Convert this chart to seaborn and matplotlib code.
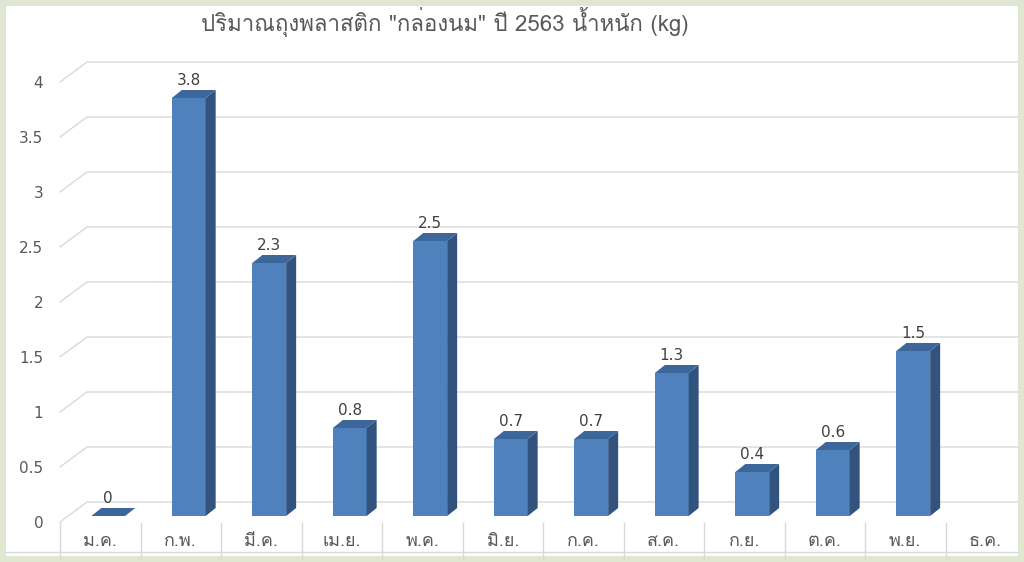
import numpy as np
import pandas as pd
import matplotlib
matplotlib.use('Agg')
import matplotlib.pyplot as plt
import seaborn as sns
from matplotlib import font_manager, ft2font
from matplotlib.patches import Polygon, Rectangle

# Data
months = ['ม.ค.', 'ก.พ.', 'มี.ค.', 'เม.ย.', 'พ.ค.', 'มิ.ย.',
          'ก.ค.', 'ส.ค.', 'ก.ย.', 'ต.ค.', 'พ.ย.', 'ธ.ค.']
weights = [0, 3.8, 2.3, 0.8, 2.5, 0.7, 0.7, 1.3, 0.4, 0.6, 1.5, np.nan]
yticks = [0, 0.5, 1, 1.5, 2, 2.5, 3, 3.5, 4]
title = 'ปริมาณถุงพลาสติก "กล่องนม" ปี 2563 น้ำหนัก (kg)'

df = pd.DataFrame({'month': months, 'kg': weights})

# Find a font that has Thai glyphs
thai_fonts = []
for f in font_manager.fontManager.ttflist:
    try:
        cmap = ft2font.FT2Font(f.fname).get_charmap()
    except Exception:
        continue
    if 0x0E01 in cmap and f.name not in thai_fonts:
        thai_fonts.append(f.name)
families = thai_fonts[:1] + ['DejaVu Sans']

sns.set_style('white')
plt.rcParams['font.family'] = families

fig = plt.figure(figsize=(10.24, 5.62), dpi=100, facecolor='#dfe7d1')
fig.patches.append(Rectangle((6 / 1024, 6 / 562), 1012 / 1024, 550 / 562,
                             transform=fig.transFigure, facecolor='white',
                             edgecolor='none', zorder=-10))
ax = fig.add_axes([60 / 1024, 40 / 562, 966 / 1024, 440 / 562])
ax.set_facecolor('none')

# pixel -> data units
SX = 1 / 80.5
SY = 4 / 440
DX, DY = 27 * SX, 20 * SY   # back wall offset
FX, FY = 8 * SX, 6 * SY     # bar front plane offset
BX, BY = 10 * SX, 8 * SY    # bar depth

# 3D-style gridlines (side wall + back wall)
x_end = -0.5 + (1018 - 60) * SX
for v in yticks:
    ax.plot([-0.5, -0.5 + DX, x_end], [v, v + DY, v + DY],
            color='#d9d9d9', lw=1, clip_on=False, zorder=0)

sns.barplot(data=df, x='month', y='kg', order=months, color='#4f81bd',
            saturation=1, width=0.42, linewidth=0, ax=ax, zorder=2)

for p in ax.patches:
    h = p.get_height()
    if np.isnan(h):
        continue
    x0 = p.get_x() + FX
    w = p.get_width()
    p.set_x(x0)
    p.set_y(FY)
    x1 = x0 + w
    top = FY + h
    side = Polygon([(x1, FY), (x1 + BX, FY + BY), (x1 + BX, top + BY), (x1, top)],
                   closed=True, facecolor='#32537d', edgecolor='none', zorder=2)
    cap = Polygon([(x0, top), (x0 + BX, top + BY), (x1 + BX, top + BY), (x1, top)],
                  closed=True, facecolor='#3d679b', edgecolor='none', zorder=2)
    ax.add_patch(side)
    ax.add_patch(cap)
    ax.text(x0 + w / 2, top + BY + 2 * SY, f'{h:g}', ha='center', va='bottom',
            fontsize=11, color='#404040', family='DejaVu Sans')

# category table lines under the floor
ax.vlines(np.arange(-0.5, 12, 1), -38 * SY, 0, color='#d9d9d9', lw=1, clip_on=False)
ax.plot([-0.5 - 55 * SX, x_end], [-30 * SY, -30 * SY], color='#d9d9d9', lw=1,
        clip_on=False)

ax.set_xlim(-0.5, 11.5)
ax.set_ylim(0, 4)
ax.set_yticks(yticks)
ax.set_yticklabels([f'{v:g}' for v in yticks], fontsize=11, color='#595959',
                   family='DejaVu Sans')
ax.set_xticks(range(len(months)))
ax.set_xticklabels(months, fontsize=13, color='#595959')
ax.tick_params(axis='y', length=0, pad=12)
ax.tick_params(axis='x', length=0, pad=7)
ax.set_xlabel('')
ax.set_ylabel('')
sns.despine(ax=ax, left=True, bottom=True)

fig.text(445 / 1024, 1 - 22 / 562, title, ha='center', va='center',
         fontsize=16, color='#595959')

fig.savefig('out.png', dpi=100, facecolor=fig.get_facecolor())
